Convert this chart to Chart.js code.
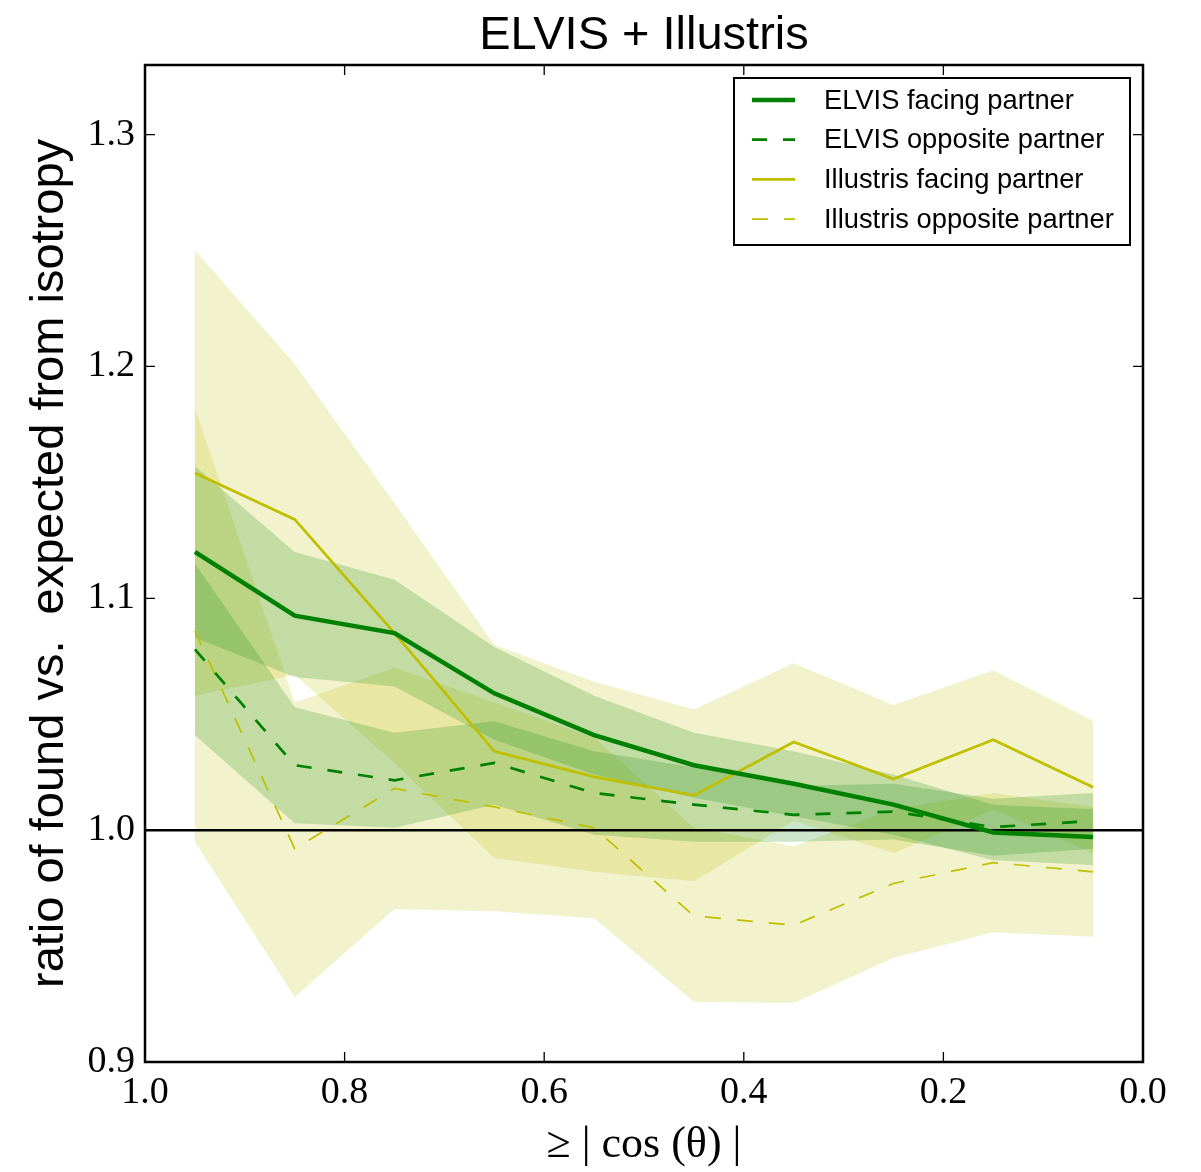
<!DOCTYPE html>
<html><head><meta charset="utf-8">
<script src="https://cdn.jsdelivr.net/npm/chart.js@4/dist/chart.umd.min.js"></script>
<style>html,body{margin:0;padding:0;background:#fff;}</style>
</head><body>
<canvas id="c" width="1201" height="1172"></canvas>
<script>
// ---- labels ----
const chartTitle = 'ELVIS + Illustris';
const xAxisLabel = '\u2265 | cos (\u03B8) |';
const yAxisLabel = 'ratio of found vs.  expected from isotropy';
const seriesLabels = ['ELVIS facing partner', 'ELVIS opposite partner', 'Illustris facing partner', 'Illustris opposite partner'];

// ---- categories / ticks ----
const cosBins = [0.95, 0.85, 0.75, 0.65, 0.55, 0.45, 0.35, 0.25, 0.15, 0.05];
const xTicks = [1.0, 0.8, 0.6, 0.4, 0.2, 0.0];
const yTicks = [0.9, 1.0, 1.1, 1.2, 1.3];
const isotropyLevel = 1.0;

// ---- series (mean, upper and lower edge of shaded band) ----
const elvisFacing   = [1.120, 1.0925, 1.085, 1.059, 1.041, 1.028, 1.020, 1.011, 0.999, 0.997];
const elvisFacingHi = [1.157, 1.120, 1.108, 1.079, 1.058, 1.042, 1.034, 1.024, 1.011, 1.009];
const elvisFacingLo = [1.083, 1.066, 1.062, 1.039, 1.024, 1.014, 1.006, 0.998, 0.987, 0.985];

const elvisOpposite   = [1.078, 1.028, 1.0215, 1.029, 1.016, 1.011, 1.0066, 1.008, 1.0013, 1.004];
const elvisOppositeHi = [1.115, 1.053, 1.042, 1.047, 1.034, 1.027, 1.019, 1.020, 1.0135, 1.016];
const elvisOppositeLo = [1.041, 1.003, 1.001, 1.011, 0.998, 0.995, 0.995, 0.996, 0.989, 0.992];

const illustrisFacing   = [1.154, 1.134, 1.085, 1.034, 1.023, 1.015, 1.038, 1.022, 1.039, 1.0185];
const illustrisFacingHi = [1.250, 1.201, 1.141, 1.080, 1.064, 1.052, 1.072, 1.054, 1.069, 1.047];
const illustrisFacingLo = [1.058, 1.067, 1.029, 0.988, 0.982, 0.978, 1.004, 0.990, 1.009, 0.990];

const illustrisOpposite   = [1.086, 0.992, 1.018, 1.010, 1.001, 0.963, 0.959, 0.977, 0.986, 0.982];
const illustrisOppositeHi = [1.182, 1.055, 1.070, 1.055, 1.040, 1.001, 0.993, 1.009, 1.016, 1.010];
const illustrisOppositeLo = [0.995, 0.928, 0.966, 0.965, 0.962, 0.926, 0.9255, 0.945, 0.956, 0.954];

// ---- styles ----
const GREEN = '#008000', YELLOW = '#bfbf00';
const GREEN_BAND = 'rgba(0,128,0,0.2)', YELLOW_BAND = 'rgba(191,191,0,0.2)';
const pts = arr => cosBins.map((x, i) => ({x: x, y: arr[i]}));

function lineDs(label, data, color, width, dash) {
  return {label, data: pts(data), borderColor: color, backgroundColor: color, borderWidth: width,
          borderDash: dash || [], pointRadius: 0, fill: false, tension: 0, isSeries: true};
}
function bandDs(data, fillColor, fillTarget) {
  return {label: '', data: pts(data), borderColor: 'rgba(0,0,0,0)', borderWidth: 1, backgroundColor: fillColor,
          pointRadius: 0, fill: fillTarget, tension: 0};
}

const datasets = [
  lineDs(seriesLabels[0], elvisFacing, GREEN, 4.5),
  lineDs(seriesLabels[1], elvisOpposite, GREEN, 2.7, [15, 16]),
  lineDs(seriesLabels[2], illustrisFacing, YELLOW, 2.7),
  lineDs(seriesLabels[3], illustrisOpposite, YELLOW, 1.7, [16, 16]),
  {label: '', data: [{x: xTicks[0], y: isotropyLevel}, {x: xTicks[xTicks.length - 1], y: isotropyLevel}],
   borderColor: '#000', borderWidth: 2.5, pointRadius: 0, fill: false},
  bandDs(elvisFacingHi, GREEN_BAND, '+1'), bandDs(elvisFacingLo, GREEN_BAND, false),
  bandDs(elvisOppositeHi, GREEN_BAND, '+1'), bandDs(elvisOppositeLo, GREEN_BAND, false),
  bandDs(illustrisFacingHi, YELLOW_BAND, '+1'), bandDs(illustrisFacingLo, YELLOW_BAND, false),
  bandDs(illustrisOppositeHi, YELLOW_BAND, '+1'), bandDs(illustrisOppositeLo, YELLOW_BAND, false)
];

const frameAndLegend = {
  id: 'frameAndLegend',
  afterDraw(chart) {
    const ctx = chart.ctx, a = chart.chartArea;
    const xs = chart.scales.x, ys = chart.scales.y;
    ctx.save();
    // inward ticks
    ctx.strokeStyle = '#000'; ctx.lineWidth = 1.3; ctx.setLineDash([]);
    const tl = 10;
    xs.ticks.forEach(t => {
      const px = xs.getPixelForValue(t.value);
      ctx.beginPath(); ctx.moveTo(px, a.bottom); ctx.lineTo(px, a.bottom - tl);
      ctx.moveTo(px, a.top); ctx.lineTo(px, a.top + tl); ctx.stroke();
    });
    ys.ticks.forEach(t => {
      const py = ys.getPixelForValue(t.value);
      ctx.beginPath(); ctx.moveTo(a.left, py); ctx.lineTo(a.left + tl, py);
      ctx.moveTo(a.right, py); ctx.lineTo(a.right - tl, py); ctx.stroke();
    });
    // frame
    ctx.lineWidth = 2.5;
    ctx.strokeRect(a.left, a.top, a.right - a.left, a.bottom - a.top);
    // legend
    const bx = a.right - 409, by = a.top + 13, bw = 396, bh = 167;
    ctx.fillStyle = '#fff';
    ctx.fillRect(bx, by, bw, bh);
    ctx.lineWidth = 2; ctx.strokeStyle = '#000';
    ctx.strokeRect(bx, by, bw, bh);
    ctx.font = '27.3px "Liberation Sans", Arial, sans-serif';
    ctx.textBaseline = 'middle'; ctx.textAlign = 'left';
    const series = chart.data.datasets.filter(d => d.isSeries);
    series.forEach((d, i) => {
      const cy = by + 22 + i * 39.7;
      ctx.strokeStyle = d.borderColor; ctx.lineWidth = d.borderWidth;
      ctx.setLineDash(d.borderDash || []);
      ctx.beginPath(); ctx.moveTo(bx + 18, cy); ctx.lineTo(bx + 61, cy); ctx.stroke();
      ctx.setLineDash([]);
      ctx.fillStyle = '#000';
      ctx.fillText(d.label, bx + 90, cy + 1);
    });
    ctx.restore();
  }
};

new Chart(document.getElementById('c'), {
  type: 'line',
  data: {datasets},
  plugins: [frameAndLegend],
  options: {
    responsive: false, animation: false, devicePixelRatio: 1,
    layout: {padding: {left: 0, right: 58, top: 0, bottom: 0}},
    plugins: {
      legend: {display: false}, tooltip: {enabled: false},
      title: {display: true, text: chartTitle, color: '#000', fullSize: false,
              font: {family: '"Liberation Sans", Arial, sans-serif', size: 47, weight: 'normal'},
              padding: {top: 8, bottom: 0.6}}
    },
    scales: {
      x: {type: 'linear', position: 'bottom', reverse: true, min: 0, max: 1,
          afterBuildTicks: s => { s.ticks = xTicks.map(v => ({value: v})); },
          afterFit: s => { s.height = 110; },
          grid: {display: false, drawTicks: false}, border: {display: false},
          ticks: {color: '#000', padding: 8, maxRotation: 0, autoSkip: false,
                  font: {family: '"Liberation Serif", "Times New Roman", serif', size: 38},
                  callback: v => Number(v).toFixed(1)},
          title: {display: true, text: xAxisLabel, color: '#000', padding: {top: 0, bottom: 0},
                  font: {family: '"Liberation Serif", "Times New Roman", serif', size: 44}}},
      y: {type: 'linear', position: 'left', min: 0.9, max: 1.33,
          afterBuildTicks: s => { s.ticks = yTicks.map(v => ({value: v})); },
          afterFit: s => { s.width = 145; },
          grid: {display: false, drawTicks: false}, border: {display: false},
          ticks: {color: '#000', padding: 10,
                  font: {family: '"Liberation Serif", "Times New Roman", serif', size: 38},
                  callback: v => Number(v).toFixed(1)},
          title: {display: true, text: yAxisLabel, color: '#000', padding: {top: 22, bottom: 0},
                  font: {family: '"Liberation Sans", Arial, sans-serif', size: 47}}}
    }
  }
});
</script>
</body></html>
